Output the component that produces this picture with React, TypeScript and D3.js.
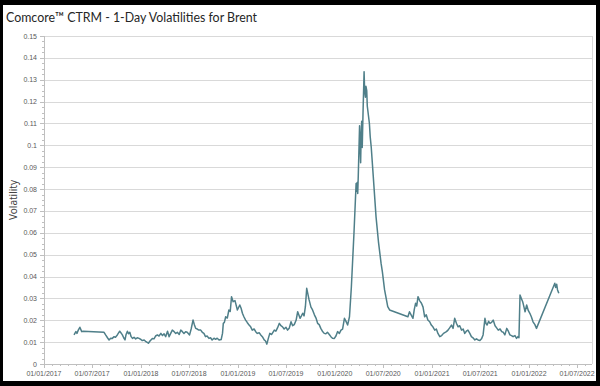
import React from 'react';
import * as d3 from 'd3';

const title = 'Comcore™ CTRM - 1-Day Volatilities for Brent';
const yLabel = 'Volatility';

const dates = [
  '2017-04-24','2017-05-01','2017-05-05','2017-05-10','2017-05-16','2017-05-23','2017-05-28',
  '2017-08-15','2017-08-21','2017-08-28','2017-09-03','2017-09-09','2017-09-15','2017-09-22','2017-09-27',
  '2017-10-04','2017-10-13','2017-10-18','2017-10-23','2017-10-28','2017-11-02','2017-11-06','2017-11-11',
  '2017-11-15','2017-11-20','2017-11-25','2017-11-30','2017-12-06','2017-12-12','2017-12-18','2017-12-25',
  '2018-01-01','2018-01-06','2018-01-13','2018-01-20','2018-01-29','2018-02-04','2018-02-13','2018-02-19',
  '2018-02-25','2018-03-04','2018-03-10','2018-03-17','2018-03-23','2018-03-29','2018-04-04','2018-04-11',
  '2018-04-17','2018-04-23','2018-04-29','2018-05-06','2018-05-12','2018-05-18','2018-05-25','2018-05-31',
  '2018-06-06','2018-06-12','2018-06-18','2018-06-24','2018-07-03','2018-07-09','2018-07-16','2018-07-21',
  '2018-07-26','2018-08-01','2018-08-07','2018-08-14','2018-08-20','2018-08-26','2018-09-01','2018-09-07',
  '2018-09-14','2018-09-20','2018-09-26','2018-10-03','2018-10-09','2018-10-15','2018-10-22','2018-10-30',
  '2018-11-04','2018-11-07','2018-11-11','2018-11-16','2018-11-22','2018-11-28','2018-12-03','2018-12-08',
  '2018-12-14','2018-12-21','2018-12-30','2019-01-08','2019-01-13','2019-01-18','2019-01-24','2019-01-30',
  '2019-02-05','2019-02-12','2019-02-18','2019-02-24','2019-03-03','2019-03-09','2019-03-15','2019-03-22',
  '2019-03-28','2019-04-03','2019-04-10','2019-04-15','2019-04-20','2019-04-25','2019-05-01','2019-05-08',
  '2019-05-18','2019-05-24','2019-05-30','2019-06-06','2019-06-12','2019-06-18','2019-06-24','2019-07-01',
  '2019-07-07','2019-07-13','2019-07-20','2019-07-26','2019-08-01','2019-08-08','2019-08-14','2019-08-23',
  '2019-08-28','2019-09-02','2019-09-07','2019-09-12','2019-09-17','2019-09-26','2019-10-03','2019-10-09',
  '2019-10-16','2019-10-22','2019-10-28','2019-11-03','2019-11-09','2019-11-15','2019-11-22','2019-11-28',
  '2019-12-04','2019-12-11','2019-12-17','2019-12-23','2019-12-30','2020-01-05','2020-01-11','2020-01-18',
  '2020-01-24','2020-01-30','2020-02-06','2020-02-12','2020-02-18','2020-02-25','2020-03-03','2020-03-13',
  '2020-03-21','2020-03-23','2020-03-25','2020-03-27','2020-03-29','2020-03-31','2020-04-03','2020-04-05',
  '2020-04-07','2020-04-09','2020-04-11','2020-04-13','2020-04-16','2020-04-20','2020-04-22','2020-04-25',
  '2020-04-27','2020-04-30','2020-05-02','2020-05-05','2020-05-10','2020-05-13','2020-05-17','2020-05-25',
  '2020-06-04','2020-06-13','2020-06-23','2020-06-28','2020-07-06','2020-07-18','2020-07-25',
  '2020-10-02','2020-10-08','2020-10-14','2020-10-21','2020-10-26','2020-10-31','2020-11-04','2020-11-09',
  '2020-11-15','2020-11-22','2020-11-28','2020-12-04','2020-12-10','2020-12-16','2020-12-23','2020-12-29',
  '2021-01-04','2021-01-11','2021-01-17','2021-01-23','2021-01-30','2021-02-06','2021-02-13','2021-02-24',
  '2021-03-02','2021-03-08','2021-03-15','2021-03-21','2021-03-27','2021-04-03','2021-04-09','2021-04-15',
  '2021-04-22','2021-04-28','2021-05-04','2021-05-10','2021-05-16','2021-05-23','2021-05-29','2021-06-04',
  '2021-06-11','2021-06-17','2021-06-23','2021-06-30','2021-07-06','2021-07-12','2021-07-19','2021-07-23',
  '2021-07-27','2021-08-02','2021-08-07','2021-08-13','2021-08-19','2021-08-26','2021-09-01','2021-09-07',
  '2021-09-14','2021-09-20','2021-09-26','2021-10-02','2021-10-09','2021-10-15','2021-10-21','2021-10-27',
  '2021-11-02','2021-11-09','2021-11-15','2021-11-20','2021-11-24','2021-11-28','2021-12-03','2021-12-08',
  '2021-12-13','2021-12-17','2021-12-23','2021-12-29','2022-01-04','2022-01-10','2022-01-16','2022-01-23',
  '2022-01-29','2022-04-08','2022-04-11','2022-04-15','2022-04-18','2022-04-23'
];

const volatility = [
  0.0133,0.0148,0.0140,0.0155,0.0168,0.0148,0.0150,
  0.0145,0.0133,0.0120,0.0110,0.0118,0.0117,0.0125,0.0122,
  0.0133,0.0150,0.0142,0.0133,0.0120,0.0110,0.0135,0.0150,
  0.0138,0.0145,0.0125,0.0117,0.0122,0.0115,0.0120,0.0117,
  0.0112,0.0107,0.0110,0.0102,0.0095,0.0105,0.0117,0.0115,
  0.0128,0.0133,0.0128,0.0140,0.0130,0.0138,0.0125,0.0150,
  0.0125,0.0140,0.0155,0.0148,0.0140,0.0145,0.0135,0.0155,
  0.0148,0.0140,0.0148,0.0145,0.0133,0.0160,0.0201,0.0180,
  0.0163,0.0160,0.0155,0.0155,0.0145,0.0140,0.0125,0.0128,
  0.0117,0.0120,0.0110,0.0118,0.0113,0.0118,0.0110,0.0112,
  0.0140,0.0186,0.0190,0.0216,0.0210,0.0247,0.0240,0.0308,
  0.0285,0.0290,0.0247,0.0270,0.0255,0.0232,0.0215,0.0201,
  0.0190,0.0178,0.0170,0.0155,0.0160,0.0148,0.0140,0.0143,
  0.0133,0.0125,0.0110,0.0105,0.0091,0.0115,0.0140,0.0135,
  0.0155,0.0150,0.0165,0.0186,0.0175,0.0170,0.0160,0.0168,
  0.0155,0.0163,0.0193,0.0175,0.0180,0.0200,0.0239,0.0209,
  0.0220,0.0232,0.0220,0.0262,0.0346,0.0293,0.0260,0.0247,
  0.0225,0.0210,0.0186,0.0180,0.0163,0.0150,0.0140,0.0138,
  0.0145,0.0135,0.0125,0.0118,0.0117,0.0128,0.0148,0.0140,
  0.0155,0.0160,0.0209,0.0195,0.0178,0.0216,0.0350,0.0600,
  0.0826,0.0790,0.0830,0.0780,0.0856,0.0950,0.1090,0.1000,
  0.0920,0.1050,0.1110,0.0990,0.1150,0.1337,0.1250,0.1220,
  0.1270,0.1250,0.1180,0.1150,0.1100,0.1040,0.0990,0.0850,
  0.0673,0.0560,0.0460,0.0420,0.0340,0.0262,0.0247,
  0.0216,0.0239,0.0225,0.0209,0.0250,0.0278,0.0265,0.0308,
  0.0290,0.0278,0.0260,0.0216,0.0225,0.0201,0.0193,0.0178,
  0.0170,0.0155,0.0160,0.0140,0.0125,0.0130,0.0140,0.0148,
  0.0155,0.0165,0.0178,0.0163,0.0209,0.0185,0.0170,0.0175,
  0.0155,0.0160,0.0140,0.0150,0.0155,0.0140,0.0125,0.0120,
  0.0110,0.0115,0.0110,0.0107,0.0115,0.0133,0.0209,0.0185,
  0.0178,0.0195,0.0186,0.0190,0.0201,0.0175,0.0165,0.0155,
  0.0160,0.0148,0.0145,0.0133,0.0163,0.0150,0.0133,0.0130,
  0.0125,0.0130,0.0117,0.0125,0.0120,0.0316,0.0300,0.0285,
  0.0260,0.0239,0.0270,0.0245,0.0232,0.0215,0.0193,0.0180,
  0.0163,0.0369,0.0350,0.0365,0.0340,0.0323
];

const yTicks = [0, 0.01, 0.02, 0.03, 0.04, 0.05, 0.06, 0.07, 0.08, 0.09, 0.1, 0.11, 0.12, 0.13, 0.14, 0.15];
const xTickDates = ['2017-01-01','2017-07-01','2018-01-01','2018-07-01','2019-01-01','2019-07-01',
  '2020-01-01','2020-07-01','2021-01-01','2021-07-01','2022-01-01','2022-07-01'];
const xDomain = ['2017-01-01', '2022-08-26'];

const parse = d3.utcParse('%Y-%m-%d');
const fmtDate = d3.utcFormat('%d/%m/%Y');

export default function App() {
  const W = 600, H = 386;
  const L = 44, R = 592, T = 36, B = 364;
  const x = d3.scaleUtc().domain(xDomain.map(s => parse(s) as Date)).range([L, R]);
  const y = d3.scaleLinear().domain([0, 0.15]).range([B, T]);

  const data = dates.map((d, i) => ({ d: parse(d) as Date, v: volatility[i] }));
  const line = d3.line<{ d: Date; v: number }>().x(p => x(p.d)).y(p => y(p.v));

  const minorY = d3.range(0, 0.15 + 1e-9, 0.0025).filter(v => Math.abs(v * 100 - Math.round(v * 100)) > 1e-6);
  const minorX = d3.utcMonth.range(x.domain()[0], x.domain()[1]).filter(d => d.getUTCMonth() % 6 !== 0);

  const tickColor = '#bfbfbf';
  const labelColor = '#595959';
  const font = '"Liberation Sans", Arial, sans-serif';

  return (
    <svg width={W} height={H} style={{ position: 'absolute', left: 0, top: 0, display: 'block' }}>
      <rect x={0} y={0} width={W} height={H} fill="#000" />
      <rect x={3} y={5} width={593} height={376} fill="#fff" />
      <text x={6} y={22} fontFamily='Lato, "Noto Sans", sans-serif' fontSize={13.5} textLength={251} lengthAdjust="spacingAndGlyphs" fill="#262626">{title}</text>

      {yTicks.map(t => (
        <line key={'g' + t} x1={L} x2={R} y1={Math.round(y(t)) + 0.5} y2={Math.round(y(t)) + 0.5} stroke="#d9d9d9" strokeWidth={1} />
      ))}
      <line x1={R + 0.5} x2={R + 0.5} y1={T} y2={B} stroke="#d9d9d9" />

      {/* y axis */}
      <line x1={L + 0.5} x2={L + 0.5} y1={T} y2={B} stroke={tickColor} />
      {yTicks.map(t => (
        <g key={'yt' + t}>
          <line x1={L - 4} x2={L} y1={Math.round(y(t)) + 0.5} y2={Math.round(y(t)) + 0.5} stroke={tickColor} />
          <text x={37} y={y(t) + 2.5} textAnchor="end" fontFamily={font} fontSize={7} fill={labelColor}>{String(t)}</text>
        </g>
      ))}
      {minorY.map(t => (
        <line key={'ym' + t} x1={L - 2} x2={L} y1={Math.round(y(t)) + 0.5} y2={Math.round(y(t)) + 0.5} stroke={tickColor} />
      ))}

      {/* x axis */}
      <line x1={L} x2={R} y1={B + 0.5} y2={B + 0.5} stroke={tickColor} />
      {xTickDates.map(s => {
        const d = parse(s) as Date;
        const px = Math.round(x(d)) + 0.5;
        return (
          <g key={'xt' + s}>
            <line x1={px} x2={px} y1={B} y2={B + 4} stroke={tickColor} />
            <text x={x(d)} y={376} textAnchor="middle" fontFamily={font} fontSize={7} fill={labelColor}>{fmtDate(d)}</text>
          </g>
        );
      })}
      {minorX.map(d => {
        const px = Math.round(x(d)) + 0.5;
        return <line key={'xm' + d.getTime()} x1={px} x2={px} y1={B} y2={B + 2} stroke={tickColor} />;
      })}

      <text transform={`translate(17,200) rotate(-90)`} textAnchor="middle" fontFamily='"Noto Sans", sans-serif' fontSize={10} fill="#404040">{yLabel}</text>

      <path d={line(data) || ''} fill="none" stroke="#4f7f89" strokeWidth={1.5} strokeLinejoin="round" />
    </svg>
  );
}
